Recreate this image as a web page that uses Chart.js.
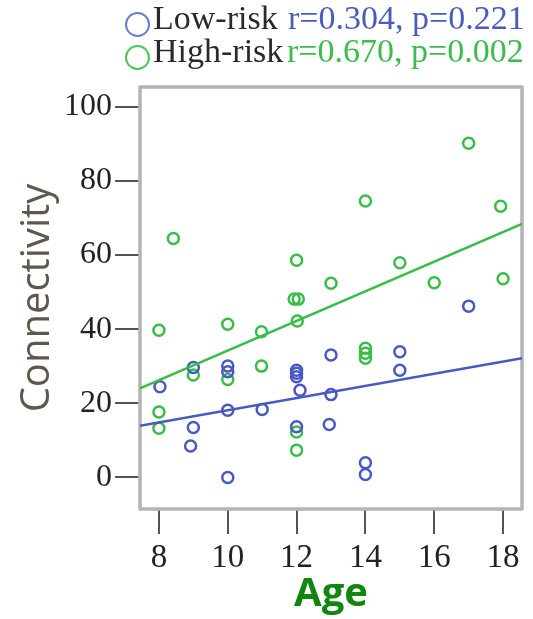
<!DOCTYPE html>
<html>
<head>
<meta charset="utf-8">
<script src="https://cdn.jsdelivr.net/npm/chart.js@4/dist/chart.umd.min.js"></script>
<style>
  html, body { margin: 0; padding: 0; background: #fff; }
  #wrap { position: relative; width: 533px; height: 619px; overflow: hidden; }
  #chart { position: absolute; left: 0; top: 0; }
  .leg { position: absolute; font-family: "Liberation Serif", "Times New Roman", serif; font-size: 34px; line-height: 34px; white-space: pre; }
  .mark { position: absolute; width: 25px; height: 25px; border-radius: 50%; box-sizing: border-box; border: 2.4px solid; }
</style>
</head>
<body>
<div id="wrap">
  <canvas id="chart" width="533" height="619"></canvas>
  <span class="mark" style="left:125px;top:12px;border-color:#6a7bd0;"></span>
  <span class="leg" style="left:153px;top:1px;color:#2a2a2a;">Low-risk</span>
  <span class="leg" style="left:288px;top:1px;color:#4a5bbd;">r=0.304, p=0.221</span>
  <span class="mark" style="left:125px;top:45px;border-color:#4cc45a;"></span>
  <span class="leg" style="left:153px;top:34px;color:#2a2a2a;">High-risk</span>
  <span class="leg" style="left:287px;top:34px;color:#3dbb4c;">r=0.670, p=0.002</span>
</div>
<script>
// Axis ticks
const xTicks = [8, 10, 12, 14, 16, 18];
const yTicks = [0, 20, 40, 60, 80, 100];

// Low-risk group: age and connectivity
const lowAge  = [8.03, 9.0, 9.0, 8.92, 10.0, 10.0, 10.0, 10.0, 11.0, 12.0, 12.0, 12.0, 12.1, 12.0, 13.0, 13.0, 12.95, 14.0, 14.0, 15.0, 15.0, 17.0];
const lowConn = [24.4, 29.6, 13.4, 8.4, 30.0, 28.5, 18.1, -0.1, 18.3, 28.9, 28.1, 27.1, 23.5, 13.6, 33.0, 22.3, 14.2, 3.9, 0.7, 33.9, 28.9, 46.2];

// High-risk group: age and connectivity
const highAge  = [8.0, 8.0, 8.0, 8.42, 9.0, 10.0, 10.0, 10.98, 10.98, 12.0, 11.93, 12.05, 12.02, 12.0, 12.0, 13.0, 14.0, 14.0, 14.0, 14.0, 15.0, 16.0, 17.0, 17.93, 18.0];
const highConn = [39.7, 17.6, 13.2, 64.5, 27.6, 26.4, 41.3, 39.3, 30.0, 58.6, 48.1, 48.1, 42.2, 12.2, 7.3, 52.4, 74.6, 34.8, 33.5, 32.1, 57.9, 52.5, 90.2, 73.2, 53.6];

// Fitted regression lines (end points across the plotted age range)
const lowFitAge   = [7.45, 18.55];
const lowFitConn  = [13.9, 32.1];
const highFitAge  = [7.45, 18.55];
const highFitConn = [24.0, 68.4];

const BLUE = '#4858c4';
const GREEN = '#38bd49';

const pts = (xs, ys) => xs.map((x, i) => ({ x: x, y: ys[i] }));

// Grey box around the plotting area
const framePlugin = {
  id: 'frame',
  beforeDatasetsDraw(chart) {
    const a = chart.chartArea, ctx = chart.ctx;
    ctx.save();
    ctx.strokeStyle = '#b4b4b4';
    ctx.lineWidth = 3.5;
    ctx.lineJoin = 'round';
    ctx.strokeRect(a.left, a.top, a.right - a.left, a.bottom - a.top);
    ctx.restore();
  }
};

new Chart(document.getElementById('chart'), {
  type: 'scatter',
  data: {
    datasets: [
      { type: 'line', data: pts(lowFitAge, lowFitConn), borderColor: BLUE, borderWidth: 2.5, pointRadius: 0, fill: false },
      { type: 'line', data: pts(highFitAge, highFitConn), borderColor: GREEN, borderWidth: 2.5, pointRadius: 0, fill: false },
      { label: 'Low-risk', data: pts(lowAge, lowConn), borderColor: BLUE, backgroundColor: 'rgba(0,0,0,0)', pointRadius: 5.5, borderWidth: 2.5 },
      { label: 'High-risk', data: pts(highAge, highConn), borderColor: GREEN, backgroundColor: 'rgba(0,0,0,0)', pointRadius: 5.5, borderWidth: 2.5 }
    ]
  },
  options: {
    responsive: false,
    animation: false,
    devicePixelRatio: 1,
    layout: { padding: { top: 87, right: 11, left: 0, bottom: 0 } },
    plugins: { legend: { display: false }, tooltip: { enabled: false } },
    scales: {
      x: {
        type: 'linear',
        min: 7.45, max: 18.55,
        afterFit(s) { s.height = 110; },
        afterBuildTicks(s) { s.ticks = xTicks.map(v => ({ value: v })); },
        border: { display: false },
        grid: { drawOnChartArea: false, drawTicks: true, tickLength: 25, color: '#555', lineWidth: 2 },
        ticks: { color: '#222', padding: 5, maxRotation: 0, font: { family: 'Liberation Serif', size: 33 } },
        title: { display: true, text: 'Age', color: '#10860f', padding: { top: 0, bottom: 0 }, font: { family: 'Open Sans', size: 40, weight: 'bold' } }
      },
      y: {
        type: 'linear',
        min: -8.6, max: 105.4,
        afterFit(s) { s.width = 140; },
        afterBuildTicks(s) { s.ticks = yTicks.map(v => ({ value: v })); },
        border: { display: false },
        grid: { drawOnChartArea: false, drawTicks: true, tickLength: 25, color: '#555', lineWidth: 2 },
        ticks: { color: '#222', padding: 3, font: { family: 'Liberation Serif', size: 32 } },
        title: { display: true, text: 'Connectivity', color: '#5e584c', padding: { top: 14, bottom: 0 }, font: { family: 'Open Sans', size: 40 } }
      }
    }
  },
  plugins: [framePlugin]
});
</script>
</body>
</html>
